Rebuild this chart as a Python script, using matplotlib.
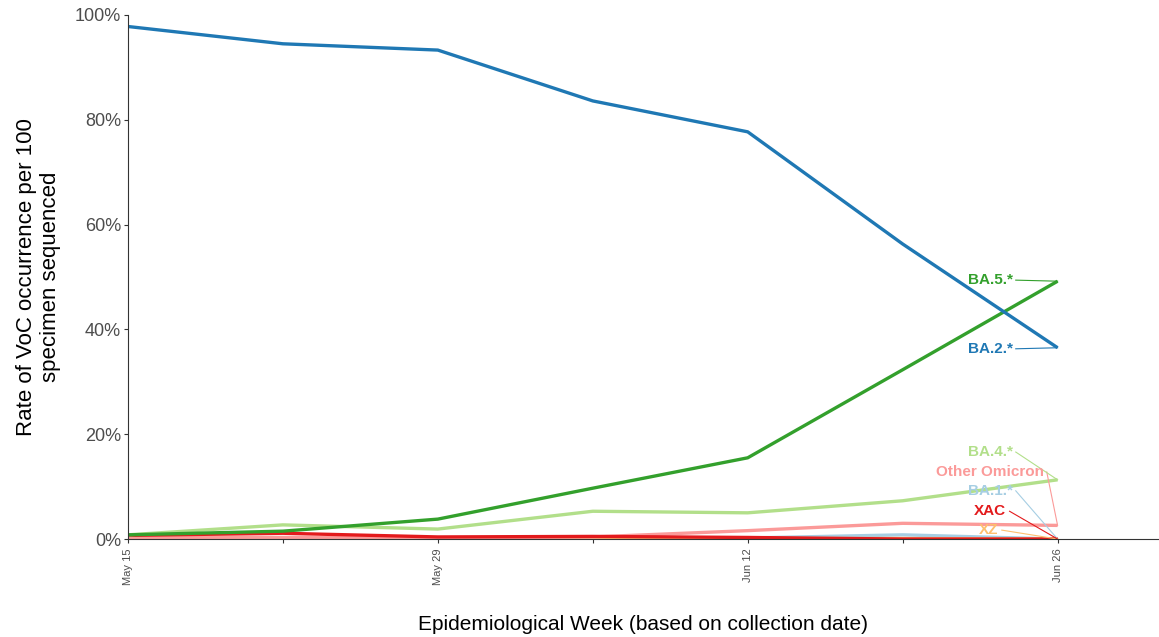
import numpy as np
import matplotlib.pyplot as plt

plt.rcParams['font.family'] = ['Liberation Sans', 'DejaVu Sans']

weeks = ['May 15', 'May 22', 'May 29', 'Jun 5', 'Jun 12', 'Jun 19', 'Jun 26']
week_labels = ['May 15', '', 'May 29', '', 'Jun 12', '', 'Jun 26']

ba2 = [97.8, 94.5, 93.3, 83.6, 77.7, 56.3, 36.5]
ba5 = [0.8, 1.5, 3.8, 9.7, 15.5, 32.3, 49.2]
ba4 = [0.8, 2.7, 1.9, 5.3, 5.0, 7.3, 11.3]
other_omicron = [0.3, 0.3, 0.2, 0.4, 1.6, 3.0, 2.6]
ba1 = [0.1, 0.1, 0.1, 0.1, 0.2, 0.8, 0.0]
xac = [0.7, 1.1, 0.4, 0.5, 0.3, 0.0, 0.0]
xz = [0.1, 0.1, 0.1, 0.1, 0.1, 0.1, 0.0]

series = [
	('BA.1.*', ba1, '#a6cee3'),
	('XZ', xz, '#fdbf6f'),
	('Other Omicron', other_omicron, '#fb9a99'),
	('XAC', xac, '#e31a1c'),
	('BA.4.*', ba4, '#b2df8a'),
	('BA.5.*', ba5, '#33a02c'),
	('BA.2.*', ba2, '#1f78b4'),
]

# label positions (text right edge x in week units, y in %)
label_pos = {
	'BA.5.*': (5.71, 49.4),
	'BA.2.*': (5.71, 36.3),
	'BA.4.*': (5.71, 16.6),
	'Other Omicron': (5.91, 12.8),
	'BA.1.*': (5.71, 9.2),
	'XAC': (5.67, 5.3),
	'XZ': (5.62, 1.7),
}

fig = plt.figure(figsize=(11.59, 6.37), dpi=100)
ax = fig.add_axes([0.1104, 0.1538, 0.889, 0.8227])

x = np.arange(len(weeks))
for name, vals, col in series:
	ax.plot(x, vals, '-', color=col, linewidth=2.4, solid_capstyle='butt')

for name, vals, col in series:
	tx, ty = label_pos[name]
	ax.text(tx, ty, name, color=col, fontsize=11, fontweight='bold', ha='right', va='center')
	ax.plot([tx + 0.02, x[-1]], [ty, vals[-1]], '-', color=col, linewidth=0.8)

ax.set_xlim(0, 6.65)
ax.set_ylim(0, 100)
ax.set_xticks(x)
ax.set_xticklabels(week_labels, rotation=90, fontsize=8, color='#4d4d4d')
ax.set_yticks([0, 20, 40, 60, 80, 100])
ax.set_yticklabels(['0%', '20%', '40%', '60%', '80%', '100%'], fontsize=13, color='#4d4d4d')
ax.tick_params(axis='both', length=3, color='#333333')
ax.tick_params(axis='y', pad=2)

for s in ['top', 'right']:
	ax.spines[s].set_visible(False)
for s in ['left', 'bottom']:
	ax.spines[s].set_color('#333333')
	ax.spines[s].set_linewidth(0.8)

ax.set_xlabel('Epidemiological Week (based on collection date)', fontsize=15, labelpad=22)
ax.set_ylabel('Rate of VoC occurrence per 100\nspecimen sequenced', fontsize=16, labelpad=10)

plt.savefig('out.png', dpi=100)
